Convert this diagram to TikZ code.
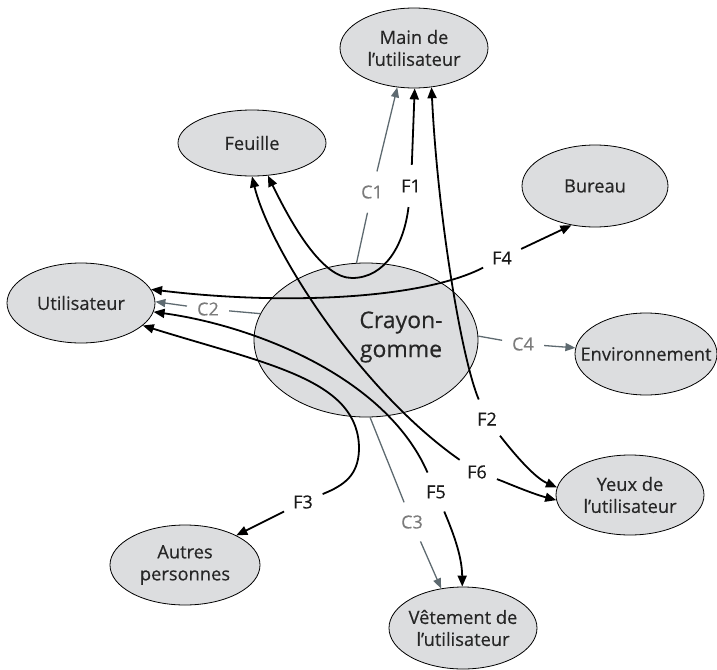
\documentclass[tikz,border=0pt]{standalone}
\usepackage{fontspec}
\setmainfont{Open Sans}[FakeBold=0.35]
\usetikzlibrary{arrows.meta,shapes.geometric}
\definecolor{bubblefill}{HTML}{DCDDDF}
\definecolor{slate}{HTML}{5E6A70}
\definecolor{labgray}{HTML}{7C7C7C}
\begin{document}
\begin{tikzpicture}[x=1pt,y=-1pt,
  bubble/.style={ellipse,draw=black,line width=0.8pt,fill=bubblefill,
    minimum width=148pt,minimum height=80pt,inner sep=0pt},
  btext/.style={align=center,inner sep=0pt,text=black!85,font=\fontsize{18.3}{22}\selectfont},
  bigtext/.style={align=center,inner sep=0pt,text=black!85,font=\fontsize{23}{29}\selectfont},
  lab/.style={circle,minimum size=42pt,inner sep=0pt,font=\fontsize{18}{21}\selectfont},
  flab/.style={lab,text=black!90},
  clab/.style={lab,text=labgray},
  fn/.style={line width=1.8pt,draw=black},
  fstart/.style={fn,{Triangle[length=11pt,width=9pt]}-},
  fend/.style={fn,-{Triangle[length=11pt,width=9pt]}},
  cn/.style={line width=1.3pt,draw=slate,-{Triangle[length=10pt,width=8pt]}},
]
\useasboundingbox (0,0) rectangle (717,669);

% elements around the pencil
\node[bubble,label={[btext]center:{Main de\\l’utilisateur}}] (main) at (414,48) {};
\node[bubble,minimum height=66pt,label={[btext]center:Feuille}] (feuille) at (252,143) {};
\node[bubble,minimum width=146pt,minimum height=82pt,label={[btext]center:Bureau}] (bureau) at (595,186) {};
\node[bubble,label={[btext]center:Utilisateur}] (util) at (81,303) {};
\node[bubble,minimum width=224pt,minimum height=154pt,
  label={[bigtext,xshift=35pt,yshift=3pt]center:{Crayon-\\gomme}}] (crayon) at (366,340) {};
\node[bubble,minimum width=142pt,minimum height=82pt,label={[btext]center:Environnement}] (env) at (646,354) {};
\node[bubble,label={[btext]center:{Yeux de\\l’utilisateur}}] (yeux) at (630,495) {};
\node[bubble,minimum width=150pt,label={[btext]center:{Autres\\personnes}}] (autres) at (185,565) {};
\node[bubble,minimum height=82pt,label={[btext]center:{Vêtement de\\l’utilisateur}}] (vet) at (463,628) {};

% connector labels
\node[flab] (lF1) at (411,186) {F1};
\node[clab] (lC1) at (372,192) {C1};
\node[flab] (lF2) at (487,419) {F2};
\node[flab] (lF3) at (303,502) {F3};
\node[flab] (lF4) at (502,258) {F4};
\node[flab] (lF5) at (436,492) {F5};
\node[flab] (lF6) at (477,472) {F6};
\node[clab] (lC2) at (208,309) {C2};
\node[clab] (lC3) at (412,522) {C3};
\node[clab] (lC4) at (523,344) {C4};

% constraint links
\draw[cn] (crayon.97) -- (lC1) -- (main.-113);
\draw[cn] (crayon.166) -- (lC2) -- (util.1);
\draw[cn] (crayon.-87) -- (lC3) -- (vet.119);
\draw[cn] (crayon.2) -- (lC4) -- (env.175);

% function links: F1 hand / sheet
\draw[fstart] (main.-89) -- (lF1);
\draw[fend] (lF1) .. controls (404,245) and (385,278) .. (352,278)
  .. controls (322,278) and (292,225) .. (feuille.-64);
% F2 hand / eyes
\draw[fstart] (main.-66) .. controls (438,220) and (462,360) .. (lF2);
\draw[fend] (lF2) .. controls (515,455) and (535,478) .. (yeux.174);
% F3 user / other people
\draw[fstart] (util.-20) .. controls (270,365) and (360,380) .. (359,450)
  .. controls (358,475) and (345,485) .. (lF3);
\draw[fend] (lF3) -- (autres.30);
% F4 user / desk
\draw[fstart] (util.11) .. controls (280,305) and (420,300) .. (lF4);
\draw[fend] (lF4) -- (bureau.-121);
% F5 user / clothes
\draw[fstart] (util.-7) .. controls (250,325) and (385,375) .. (lF5);
\draw[fend] (lF5) .. controls (452,530) and (462,555) .. (vet.91);
% F6 sheet / eyes
\draw[fstart] (feuille.-90) .. controls (270,250) and (360,390) .. (lF6);
\draw[fend] (lF6) .. controls (505,482) and (530,493) .. (yeux.184);
\end{tikzpicture}
\end{document}
